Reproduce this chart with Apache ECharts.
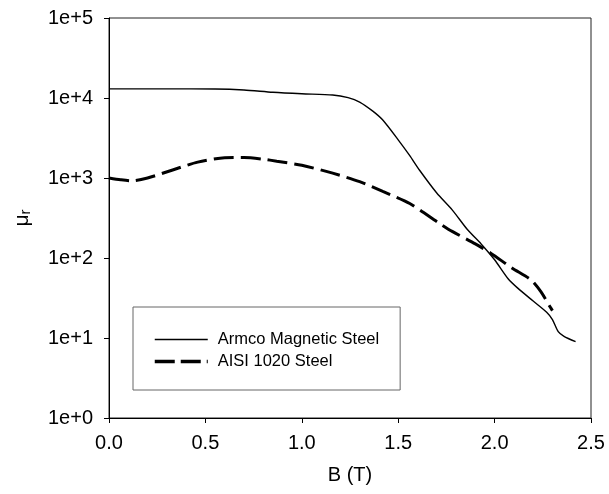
<!DOCTYPE html>
<html>
<head>
<meta charset="utf-8">
<script src="https://cdn.jsdelivr.net/npm/echarts@6/dist/echarts.min.js"></script>
<style>
  html, body { margin: 0; padding: 0; background: #fff; }
  #chart { width: 609px; height: 494px; }
</style>
</head>
<body>
<div id="chart"></div>
<script>
  // B (T) vs relative permeability
  const armcoB = [0, 0.3, 0.55, 0.7, 0.85, 1.0, 1.16, 1.24, 1.3, 1.37, 1.42, 1.5, 1.56, 1.61, 1.7, 1.78, 1.86, 1.93, 2.0, 2.07, 2.12, 2.2, 2.27, 2.3, 2.33, 2.36, 2.42];
  const armcoMu = [13000, 13000, 12950, 12600, 11800, 11300, 10900, 10100, 8900, 6800, 5300, 3000, 1900, 1260, 650, 400, 225, 150, 95, 55, 42, 29, 21, 17, 12, 10.5, 9];

  const aisiB = [0, 0.06, 0.12, 0.2, 0.33, 0.46, 0.6, 0.7, 0.8, 0.87, 1.0, 1.16, 1.3, 1.42, 1.56, 1.71, 1.78, 1.9, 1.98, 2.09, 2.19, 2.24, 2.29, 2.3];
  const aisiMu = [1000, 950, 920, 1000, 1260, 1580, 1790, 1800, 1720, 1620, 1440, 1150, 900, 680, 480, 275, 215, 150, 115, 75, 53, 38, 24, 22];

  const seriesNames = ["Armco Magnetic Steel", "AISI 1020 Steel"];

  const font = "Liberation Sans, Arial, sans-serif";

  function pairs(xs, ys) {
    return xs.map((x, i) => [x, ys[i]]);
  }

  const chart = echarts.init(document.getElementById("chart"));
  chart.setOption({
    animation: false,
    backgroundColor: "#fff",
    grid: {
      left: 103,
      right: 18,
      top: 18,
      bottom: 76,
      show: true,
      borderColor: "#222",
      borderWidth: 1
    },
    legend: {
      orient: "vertical",
      left: 133,
      top: 307,
      padding: [24, 21, 20, 20],
      itemWidth: 53,
      itemHeight: 14,
      itemGap: 5,
      borderColor: "#666",
      borderWidth: 1,
      backgroundColor: "#fff",
      itemStyle: { opacity: 0 },
      textStyle: {
        color: "#000",
        fontFamily: font,
        fontSize: 16.5,
        padding: [0, 0, 0, 5]
      },
      data: [
        { name: seriesNames[0], lineStyle: { color: "#000", width: 1.4 } },
        { name: seriesNames[1], lineStyle: { color: "#000", width: 3.5, type: [20, 6], cap: "butt" } }
      ]
    },
    xAxis: {
      type: "value",
      min: 0,
      max: 2.5,
      interval: 0.5,
      name: "B (T)",
      nameLocation: "middle",
      nameGap: 47,
      nameTextStyle: { color: "#000", fontFamily: font, fontSize: 20 },
      axisLine: { lineStyle: { color: "#000", width: 1 } },
      axisTick: { show: true, inside: false, length: 5, lineStyle: { color: "#000" } },
      axisLabel: {
        color: "#000",
        fontFamily: font,
        fontSize: 20,
        margin: 15,
        formatter: v => v.toFixed(1)
      },
      splitLine: { show: false }
    },
    yAxis: {
      type: "log",
      logBase: 10,
      min: 1,
      max: 100000,
      name: "{a|μ}{b|r}",
      nameLocation: "middle",
      nameRotate: 90,
      nameGap: 76,
      nameTextStyle: {
        rich: {
          a: { color: "#000", fontFamily: font, fontSize: 21, lineHeight: 21, verticalAlign: "top" },
          b: { color: "#000", fontFamily: font, fontSize: 15, lineHeight: 15, verticalAlign: "bottom", padding: [10, 0, 0, 0] }
        }
      },
      axisLine: { show: true, lineStyle: { color: "#000", width: 1 } },
      axisTick: { show: true, inside: false, length: 5, lineStyle: { color: "#000" } },
      axisLabel: {
        color: "#000",
        fontFamily: font,
        fontSize: 20,
        margin: 16,
        formatter: v => "1e+" + Math.round(Math.log10(v))
      },
      minorTick: { show: false },
      splitLine: { show: false }
    },
    series: [
      {
        name: seriesNames[0],
        type: "line",
        smooth: 0.25,
        symbol: "none",
        data: pairs(armcoB, armcoMu),
        lineStyle: { color: "#000", width: 1.4 },
        itemStyle: { color: "#000" }
      },
      {
        name: seriesNames[1],
        type: "line",
        smooth: 0.25,
        symbol: "none",
        data: pairs(aisiB, aisiMu),
        lineStyle: { color: "#000", width: 3, type: [20, 7], cap: "butt" },
        itemStyle: { color: "#000" }
      }
    ]
  });
</script>
</body>
</html>
